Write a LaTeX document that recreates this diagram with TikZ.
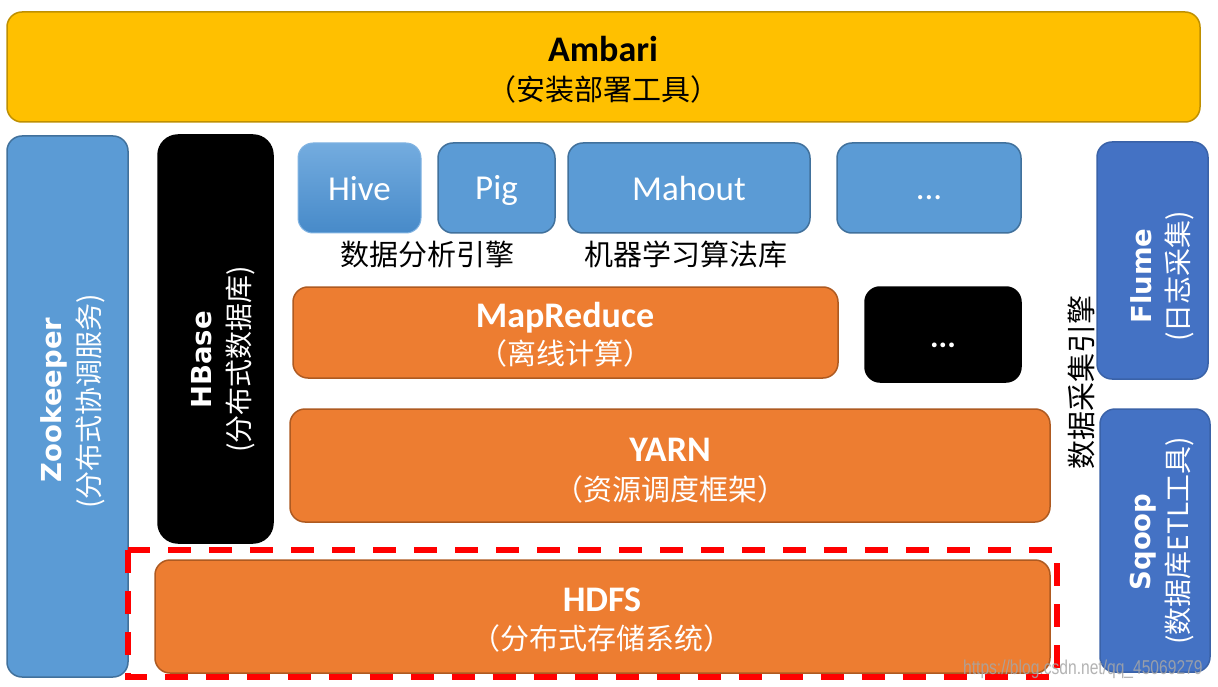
\documentclass[tikz,border=0pt]{standalone}
\usepackage{fontspec}
\setmainfont{Carlito}
\newfontfamily\cjk{Noto Sans CJK SC}
\newfontfamily\vfont{DejaVu Sans}
\newfontfamily\wmfont{Liberation Sans}
\definecolor{amb}{HTML}{FFC000}
\definecolor{ambb}{HTML}{BF9000}
\definecolor{blu}{HTML}{5B9BD5}
\definecolor{blub}{HTML}{41719C}
\definecolor{hivet}{HTML}{74ACDF}
\definecolor{hiveb}{HTML}{478AC9}
\definecolor{org}{HTML}{ED7D31}
\definecolor{orgb}{HTML}{AE5A21}
\definecolor{dblu}{HTML}{4472C4}
\definecolor{dblub}{HTML}{3A62A8}
\definecolor{dashred}{HTML}{FF0000}
\begin{document}
\begin{tikzpicture}[x=1pt,y=-1pt,
  box/.style={line width=1.5pt, rounded corners=15pt},
  ambbox/.style={box, draw=ambb, fill=amb},
  blubox/.style={box, draw=blub, fill=blu},
  orgbox/.style={box, draw=orgb, fill=org},
  dblubox/.style={box, draw=dblub, fill=dblu},
  blkbox/.style={box, draw=black, fill=black, rounded corners=20pt},
  ttl/.style={anchor=base, inner sep=0pt, font=\bfseries\fontsize{36}{36}\selectfont},
  reg/.style={anchor=base, inner sep=0pt, text=white, font=\fontsize{35}{35}\selectfont},
  sub/.style={inner sep=0pt, font=\cjk\fontsize{29}{29}\selectfont},
  lbl/.style={inner sep=0pt, font=\cjk\fontsize{29}{29}\selectfont},
  vttl/.style={anchor=base, inner sep=0pt, rotate=90, text=white, font=\vfont\bfseries\fontsize{27.5}{27.5}\selectfont},
  vsub/.style={inner sep=0pt, rotate=90, text=white, font=\cjk\fontsize{28}{28}\selectfont}
]
\useasboundingbox (0,0) rectangle (1218,687);
\fill[white] (0,0) rectangle (1218,687);

% Ambari
\path[ambbox] (7,12) rectangle (1200,122);
\node[ttl] (ambT) at (603,62) {Ambari};
\node[sub] (ambS) at (603,89) {（安装部署工具）};

% Zookeeper
\path[blubox] (7,136) rectangle (128,677);
\node[vttl] (zkT) at (61,400) {Zookeeper};
\node[vsub] (zkS) at (90,401) {(分布式协调服务)};

% HBase
\path[blkbox] (158,135) rectangle (273,543);
\node[vttl] (hbT) at (211,360) {HBase};
\node[vsub] (hbS) at (240,359) {(分布式数据库)};

% top row tools
\path[box, draw=hivet!90!white, line width=1pt, top color=hivet, bottom color=hiveb] (298,143) rectangle (421,233);
\node[reg] (hive) at (359.5,201) {Hive};
\path[blubox] (438,143) rectangle (555,233);
\node[reg] (pig) at (496.5,200) {Pig};
\path[blubox] (568,143) rectangle (810,233);
\node[reg] (mahout) at (689,201) {Mahout};
\path[blubox] (837,143) rectangle (1021,233);
\node[reg] (dots1) at (929,200) {...};
\node[lbl] (l1) at (427,254) {数据分析引擎};
\node[lbl] (l2) at (686,254) {机器学习算法库};

% MapReduce
\path[orgbox] (293,287) rectangle (838,378);
\node[ttl, text=white] (mrT) at (565,327) {MapReduce};
\node[sub, text=white] (mrS) at (565,353) {（离线计算）};
\path[blkbox, rounded corners=15pt] (865,287) rectangle (1021,382);
\node[reg, font=\bfseries\fontsize{32}{32}\selectfont] (dots2) at (943,347) {...};

% YARN
\path[orgbox] (290,409) rectangle (1050,522);
\node[ttl, text=white] (yT) at (670,461) {YARN};
\node[sub, text=white] (yS) at (670,489) {（资源调度框架）};

% HDFS
\path[orgbox] (155,560) rectangle (1050,673);
\node[ttl, text=white] (hT) at (602,611) {HDFS};
\node[sub, text=white] (hS) at (602,638) {（分布式存储系统）};
\draw[dashred, line width=6pt, dash pattern=on 23pt off 18pt] (127.5,550) rectangle (1057,677);

% Flume / Sqoop
\path[dblubox] (1097,142) rectangle (1208,379);
\node[vttl] (flT) at (1151,276) {Flume};
\node[vsub] (flS) at (1179,276) {(日志采集)};
\path[dblubox] (1100,409) rectangle (1210,672);
\node[vttl] (sqT) at (1150,542) {Sqoop};
\node[vsub] (sqS) at (1179,541) {(数据库ETL工具)};
\node[lbl, rotate=90] (eng) at (1081,382) {数据采集引擎};

% watermark
\node[anchor=base west, inner sep=0pt, text=gray!70, opacity=0.85, xscale=0.78, font=\wmfont\fontsize{20}{20}\selectfont] (wm) at (963,674) {https://blog.csdn.net/qq\_45069279};
\end{tikzpicture}
\end{document}
